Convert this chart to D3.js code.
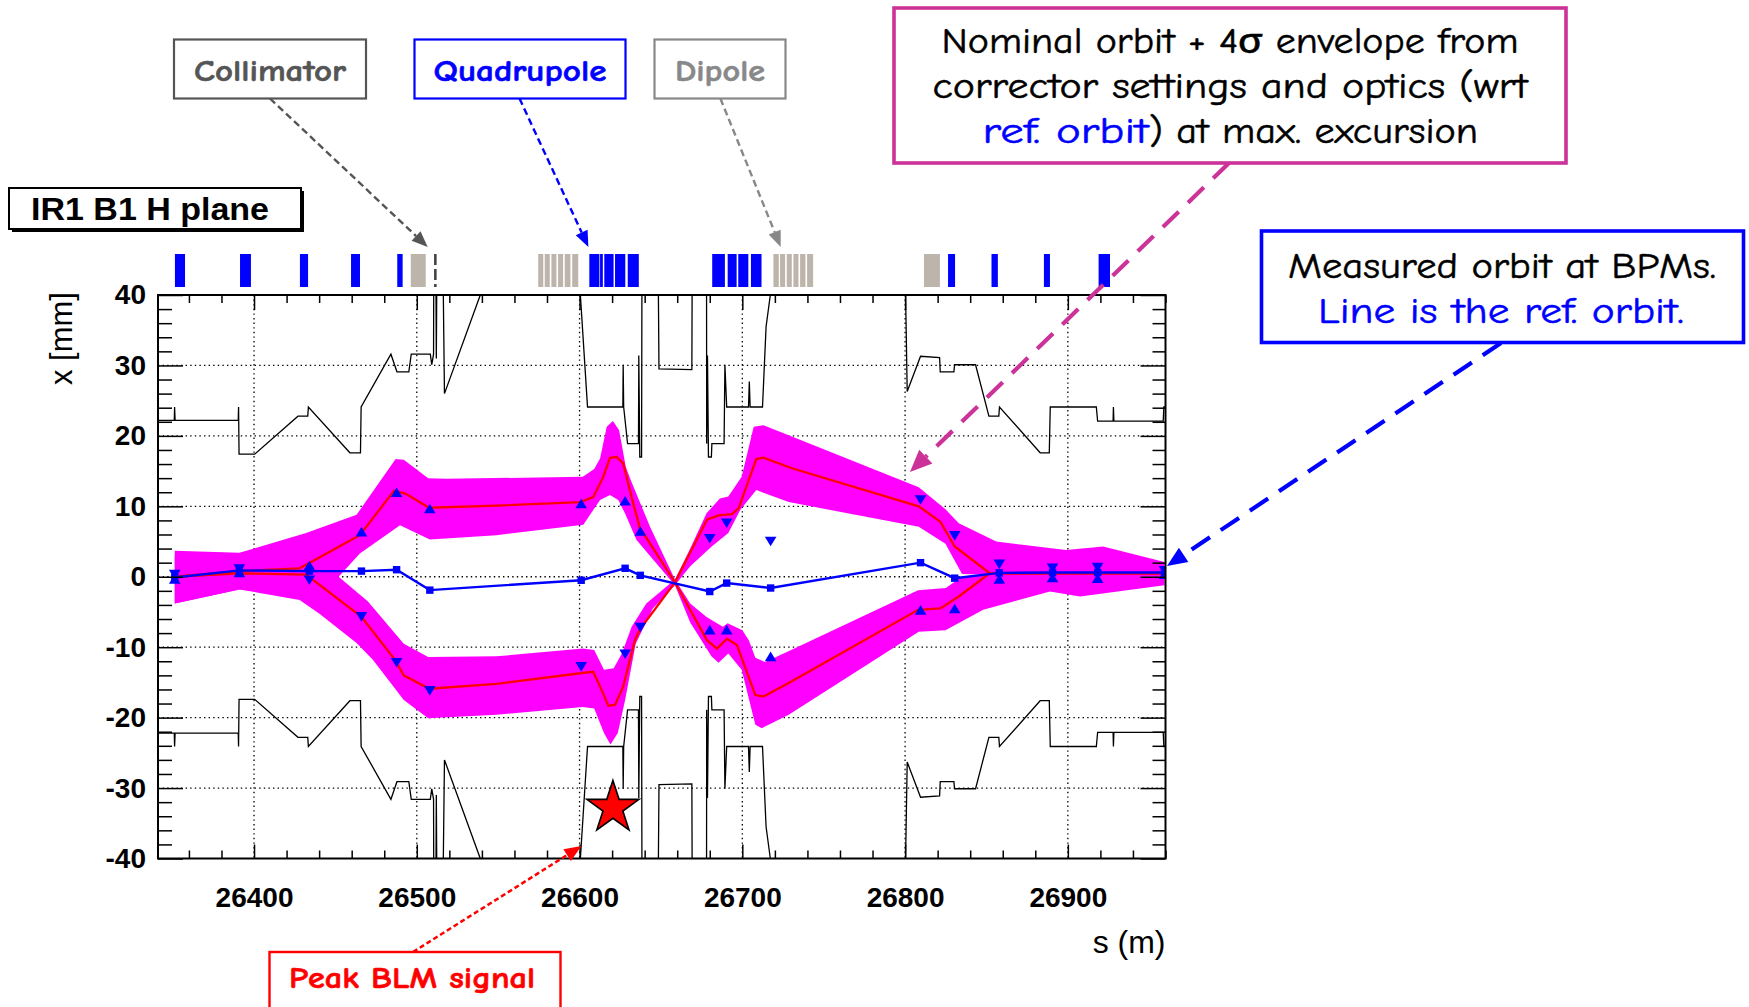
<!DOCTYPE html>
<html><head><meta charset="utf-8">
<script src="https://cdn.jsdelivr.net/npm/d3@7"></script>
<style>body{margin:0;background:#fff}svg{display:block}</style>
</head><body>
<svg id="c" width="1749" height="1007"></svg>
<script>
// ---------------- DATA ----------------
const xTicks = [26400, 26500, 26600, 26700, 26800, 26900];
const yTicks = [-40, -30, -20, -10, 0, 10, 20, 30, 40];
const xGrid = [26400, 26500, 26600, 26700, 26800, 26900];
const yGrid = [-30, -20, -10, 0, 10, 20, 30];

// upper aperture (s [m], x [mm])
const apertureUp = [[26341,22.2],[26351.0,22.2],[26351.2,24.1],[26351.5,22.2],[26390.3,22.2],[26390.5,24.1],[26390.8,17.4],[26400.4,17.4],[26427,22.8],[26433.0,22.8],[26433.4,24.1],[26458.9,17.6],[26465.4,17.6],[26465.8,24.1],[26484.1,31.6],[26487.8,29.1],[26495.1,29.1],[26496.6,31.6],[26508.3,31.6],[26509.2,30.1],[26510.3,31.6],[26510.5,50],[26511.6,50],[26512.0,31.0],[26512.5,50],[26515.8,50],[26517,26.0],[26539,40],[26547,52],[26598,52],[26600.5,40],[26604.9,24.1],[26626.6,24.1],[26626.8,30.1],[26627.1,24.1],[26629.5,18.9],[26636.2,18.9],[26636.4,31.4],[26637.0,17.0],[26638.1,17.0],[26638.4,50],[26648.1,50],[26648.8,29.5],[26669.0,29.4],[26669.3,50],[26678.0,50],[26678.1,18.9],[26678.6,31.4],[26679.2,17.0],[26681.0,17.0],[26681.3,18.9],[26688.8,18.9],[26689.3,30.1],[26690.4,24.1],[26703.8,24.1],[26704.3,27.7],[26704.8,24.1],[26712.4,24.1],[26714.6,35.5],[26717.2,40],[26720,50],[26799.6,50],[26801.3,26.3],[26809.5,31.3],[26821.2,31.1],[26821.6,29.1],[26830,29.1],[26830.4,30.1],[26843.3,30.1],[26851.5,22.8],[26857.6,22.8],[26858.0,24.1],[26883,17.6],[26888.6,17.6],[26889.2,24.1],[26917.5,24.1],[26918.3,22.1],[26927.8,22.1],[26928.0,24.1],[26928.3,22.1],[26958.6,22.1],[26959,24.1],[26960,24.1]];
// lower aperture
const apertureDown = [[26341,-22.2],[26351.0,-22.2],[26351.2,-24.1],[26351.5,-22.2],[26390.3,-22.2],[26390.5,-24.1],[26390.8,-17.4],[26400.4,-17.4],[26427,-22.8],[26433.0,-22.8],[26433.4,-24.1],[26458.9,-17.6],[26465.4,-17.6],[26465.8,-24.1],[26484.1,-31.6],[26487.8,-29.1],[26495.1,-29.1],[26496.6,-31.6],[26508.3,-31.6],[26509.2,-30.1],[26510.3,-31.6],[26510.5,-50],[26511.6,-50],[26512.0,-31.0],[26512.5,-50],[26515.8,-50],[26517,-26.0],[26539,-40],[26547,-52],[26598,-52],[26600.5,-40],[26604.9,-24.1],[26626.6,-24.1],[26626.8,-30.1],[26627.1,-24.1],[26629.5,-18.9],[26636.2,-18.9],[26636.4,-31.4],[26637.0,-17.0],[26638.1,-17.0],[26638.4,-50],[26648.1,-50],[26648.8,-29.5],[26669.0,-29.4],[26669.3,-50],[26678.0,-50],[26678.1,-18.9],[26678.6,-31.4],[26679.2,-17.0],[26681.0,-17.0],[26681.3,-18.9],[26688.8,-18.9],[26689.3,-30.1],[26690.4,-24.1],[26703.8,-24.1],[26704.3,-27.7],[26704.8,-24.1],[26712.4,-24.1],[26714.6,-35.5],[26717.2,-40],[26720,-50],[26799.6,-50],[26801.3,-26.3],[26809.5,-31.3],[26821.2,-31.1],[26821.6,-29.1],[26830,-29.1],[26830.4,-30.1],[26843.3,-30.1],[26851.5,-22.8],[26857.6,-22.8],[26858.0,-24.1],[26883,-17.6],[26888.6,-17.6],[26889.2,-24.1],[26917.5,-24.1],[26918.3,-22.1],[26927.8,-22.1],[26928.0,-24.1],[26928.3,-22.1],[26958.6,-22.1],[26959,-24.1],[26960,-24.1]];

// 4-sigma envelope, branch A (upper on the left, lower on the right)
const envAHi = [[26351.3,3.7],[26391,3.4],[26432,6.2],[26463,8.8],[26487,16.7],[26492,16.6],[26507,14.0],[26518,13.9],[26602,14.2],[26609,15.3],[26612.6,16.8],[26616.7,21.3],[26620.5,22.1],[26624.3,20.8],[26628.4,15.6],[26631.5,13.7],[26643.3,7.1],[26658.6,-0.4],[26668,-3.8],[26678,-5.7],[26688,-7.1],[26691,-6.6],[26700,-7.6],[26704,-9.0],[26708,-11.5],[26714,-12.1],[26730,-10.4],[26808,-1.9],[26825,-1.6],[26835,0.0],[26852,0.5],[26959.4,0.5]];
const envALo = [[26351.3,-3.8],[26391,-1.8],[26430,-1.0],[26452,0.0],[26465,3.3],[26489.7,7.3],[26508,5.3],[26549,5.9],[26602.3,7.4],[26612.6,10.9],[26618.7,11.6],[26623.8,10.9],[26627.9,9.0],[26635,5.2],[26658.6,-1.2],[26668,-6.5],[26681,-11.3],[26685.4,-12.2],[26691.4,-10.9],[26699.6,-13.2],[26708,-21.0],[26712,-21.5],[26728.5,-19.6],[26808.4,-7.8],[26824.8,-7.6],[26848,-4.7],[26889,-2.1],[26907.5,-2.8],[26959.4,-1.2]];
// branch B (lower on the left, upper on the right)
const envBHi = [[26351.3,3.0],[26391,2.5],[26430,1.0],[26452,0.0],[26470,-3.5],[26492,-9.5],[26507,-11.4],[26549,-11.3],[26602,-10.2],[26609,-10.4],[26615,-13.2],[26621,-13.0],[26626,-10.9],[26632,-7.1],[26641,-3.8],[26658.6,-0.4],[26668,4.0],[26678,9.0],[26686.2,11.1],[26691.4,11.4],[26699.6,14.2],[26707,21.3],[26713,21.5],[26728.5,20.1],[26808.4,12.7],[26824.8,9.6],[26833,7.6],[26856,5.0],[26899,3.8],[26921.7,4.3],[26959.4,2.1]];
const envBLo = [[26351.3,-3.8],[26391,-1.8],[26428,-3.3],[26440,-5.2],[26463,-9.4],[26473,-11.8],[26492,-17.5],[26507,-20.1],[26549,-19.6],[26602,-18.5],[26609,-18.7],[26615,-22.2],[26619,-23.8],[26623.5,-22.2],[26628,-17.5],[26634.5,-9.5],[26645,-4.5],[26658.6,-1.2],[26668,1.5],[26681.2,4.3],[26691.4,6.2],[26698.8,9.5],[26708.6,12.3],[26728.5,10.6],[26808.4,7.1],[26824.8,4.7],[26835,0.4],[26852,0.3],[26959.4,0.3]];

// nominal orbit at max excursion (red)
const nominalA = [[26351.3,0.0],[26391,0.8],[26428,1.2],[26465,5.9],[26486,12.2],[26493,11.8],[26507.6,9.8],[26549,10.1],[26600.5,10.6],[26608.4,11.3],[26614.6,14.2],[26618.7,16.9],[26622.8,17.0],[26626.8,16.1],[26633,10.4],[26637,7.0],[26658.6,-0.8],[26678.3,-9.0],[26684.4,-10.2],[26690.6,-8.8],[26696.7,-9.7],[26708,-16.8],[26713,-17.0],[26728.5,-15.1],[26808,-4.7],[26821.7,-4.5],[26833,-2.8],[26852,0.5],[26959.4,0.5]];
const nominalB = [[26351.3,0.0],[26391,0.5],[26432,0.3],[26466,-5.7],[26486.6,-11.8],[26492,-14.0],[26507.6,-15.9],[26549,-15.2],[26600.5,-13.7],[26608.4,-13.5],[26613.6,-16.1],[26617.7,-18.3],[26621.8,-18.2],[26626.8,-15.6],[26634,-9.0],[26637,-7.5],[26658.6,-0.8],[26678.3,8.1],[26685.4,8.7],[26693.6,8.9],[26697.7,9.7],[26708.6,16.7],[26713,16.9],[26730.5,15.4],[26808.4,10.0],[26821.7,7.8],[26830.5,4.3],[26852,0.5],[26959.4,0.5]];

// BPMs
const bpmS      = [26351.3, 26391, 26434, 26466, 26487.6, 26508, 26601, 26628, 26637.3, 26680, 26690.4, 26717.4, 26809.5, 26830.5, 26857.9, 26890.6, 26918.3, 26959.4];
const refOrbit  = [-0.1, 0.9, 0.8, 0.8, 1.0, -1.9, -0.5, 1.2, 0.2, -2.1, -0.9, -1.6, 2.0, -0.2, 0.55, 0.6, 0.6, 0.6];
const measUp    = [-0.3, 0.6, 1.6, 6.4, 12.0, 9.7, 10.4, 10.8, 6.5, -7.5, -7.5, -11.3, -4.7, -4.5, -0.3, -0.1, -0.2, 0.35];
const measDown  = [0.3, 1.1, -0.5, -5.7, -12.2, -16.2, -12.8, -11.0, -7.2, 5.4, 7.6, 5.0, 10.9, 5.8, 1.75, 1.2, 1.3, 0.85];

// machine elements (s start, s end)
const quadrupoles = [[26351.4,26357.6],[26391.4,26398.1],[26428.2,26433.2],[26459.6,26465.1],[26488.0,26491.3],[26606.0,26612.2],[26612.6,26614.3],[26615.2,26620.9],[26621.8,26628.1],[26629.6,26636.4],[26681.5,26689.3],[26691.0,26696.5],[26697.5,26703.7],[26705.3,26711.8],[26826.4,26830.7],[26853.1,26857.0],[26885.3,26889.0],[26918.9,26925.9]];
const dipoles = [[26574.6,26577.7],[26578.6,26581.7],[26582.7,26585.8],[26586.8,26589.9],[26590.9,26594.4],[26595.5,26599.2],[26719.1,26722.4],[26723.2,26726.3],[26727.3,26730.4],[26731.4,26734.5],[26735.5,26738.8],[26739.8,26743.5]];
const collimators = [[26496.3,26505.5],[26811.6,26821.4]];
const collimatorMarker = [26511.4];
const peakBLM = [[26620.5, -32.8]];

// ---------------- CHART ----------------
const svg = d3.select("#c");
const M = {l:158, r:1165.5, t:295, b:858.5};
const x = d3.scaleLinear().domain([26341, 26960]).range([M.l, M.r]);
const y = d3.scaleLinear().domain([-40, 40]).range([M.b, M.t]);
const AX = "'Liberation Sans', Arial, Helvetica, sans-serif";
const COMIC = "'Comic Sans MS','Comic Neue', Lato, 'Open Sans', sans-serif";

svg.append("rect").attr("width",1749).attr("height",1007).attr("fill","#fff");
svg.append("defs").append("clipPath").attr("id","plot")
  .append("rect").attr("x",M.l).attr("y",M.t).attr("width",M.r-M.l).attr("height",M.b-M.t);

// grid
const gGrid = svg.append("g").attr("stroke","#000").attr("stroke-width",1.3).attr("stroke-dasharray","1.4,3.2");
gGrid.selectAll(".gx").data(xGrid).join("line").attr("x1",d=>x(d)).attr("x2",d=>x(d)).attr("y1",M.t).attr("y2",M.b);
gGrid.selectAll(".gy").data(yGrid).join("line").attr("y1",d=>y(d)).attr("y2",d=>y(d)).attr("x1",M.l).attr("x2",M.r);

const line = d3.line().x(d=>x(d[0])).y(d=>y(d[1]));
const gData = svg.append("g").attr("clip-path","url(#plot)");

// aperture
[apertureUp, apertureDown].forEach(a => gData.append("path").attr("d", line(a))
  .attr("fill","none").attr("stroke","#000").attr("stroke-width",1.3));

// envelopes
[[envAHi, envALo],[envBHi, envBLo]].forEach(([hi, lo]) => {
  gData.append("path").attr("d", line(hi.concat(lo.slice().reverse())) + "Z")
    .attr("fill","#ff00ff").attr("stroke","none");
});
// nominal orbits
[nominalA, nominalB].forEach(a => gData.append("path").attr("d", line(a))
  .attr("fill","none").attr("stroke","#ff0000").attr("stroke-width",2.3));

// reference orbit
const ref = bpmS.map((s,i)=>[s, refOrbit[i]]);
gData.append("path").attr("d", line(ref)).attr("fill","none").attr("stroke","#0000ff").attr("stroke-width",2.4);
gData.selectAll(".sq").data(ref).join("rect")
  .attr("x",d=>x(d[0])-3.7).attr("y",d=>y(d[1])-3.7).attr("width",7.4).attr("height",7.4).attr("fill","#0000ff");

// measured orbit triangles
const triUp = "M0,-4.8L5.8,4.8L-5.8,4.8Z", triDown = "M0,4.8L5.8,-4.8L-5.8,-4.8Z";
gData.selectAll(".tu").data(bpmS.map((s,i)=>[s, measUp[i]])).join("path")
  .attr("d", triUp).attr("transform", d=>`translate(${x(d[0])},${y(d[1])})`).attr("fill","#0000ff");
gData.selectAll(".td").data(bpmS.map((s,i)=>[s, measDown[i]])).join("path")
  .attr("d", triDown).attr("transform", d=>`translate(${x(d[0])},${y(d[1])})`).attr("fill","#0000ff");

// peak BLM star
svg.selectAll(".star").data(peakBLM).join("path")
  .attr("d", d3.symbol(d3.symbolStar).size(840))
  .attr("transform", d=>`translate(${x(d[0])},${y(d[1])})`)
  .attr("fill","#ff0000").attr("stroke","#000").attr("stroke-width",1.6);

// axes (ticks inside, ROOT style)
function styleAxis(g){ g.select(".domain").remove(); g.selectAll("line").attr("stroke","#000").attr("stroke-width",1.5);
  g.attr("font-family",AX).attr("font-size",28).attr("font-weight","bold"); g.selectAll("text").attr("fill","#000"); }
const xMinor = d3.range(26360, 26961, 20).filter(v=>v%100!==0);
const yMinor = d3.range(-38, 39, 2).filter(v=>v%10!==0);
const plain = d => String(d);

svg.append("g").attr("transform",`translate(0,${M.b})`)
  .call(d3.axisBottom(x).tickValues(xTicks).tickSize(-14).tickPadding(29).tickFormat(plain)).call(styleAxis);
svg.append("g").attr("transform",`translate(0,${M.b})`)
  .call(d3.axisBottom(x).tickValues(xMinor).tickSize(-8).tickFormat("")).call(styleAxis);
svg.append("g").attr("transform",`translate(0,${M.t})`)
  .call(d3.axisTop(x).tickValues(xTicks).tickSize(-15).tickFormat("")).call(styleAxis);
svg.append("g").attr("transform",`translate(0,${M.t})`)
  .call(d3.axisTop(x).tickValues(xMinor).tickSize(-8).tickFormat("")).call(styleAxis);
svg.append("g").attr("transform",`translate(${M.l},0)`)
  .call(d3.axisLeft(y).tickValues(yTicks).tickSize(-25).tickPadding(12).tickFormat(plain)).call(styleAxis);
svg.append("g").attr("transform",`translate(${M.l},0)`)
  .call(d3.axisLeft(y).tickValues(yMinor).tickSize(-14).tickFormat("")).call(styleAxis);
svg.append("g").attr("transform",`translate(${M.r},0)`)
  .call(d3.axisRight(y).tickValues(yTicks).tickSize(-25).tickFormat("")).call(styleAxis);
svg.append("g").attr("transform",`translate(${M.r},0)`)
  .call(d3.axisRight(y).tickValues(yMinor).tickSize(-13).tickFormat("")).call(styleAxis);

svg.append("rect").attr("x",M.l).attr("y",M.t).attr("width",M.r-M.l).attr("height",M.b-M.t)
  .attr("fill","none").attr("stroke","#000").attr("stroke-width",2);

// axis titles
svg.append("text").attr("x",M.r).attr("y",953).attr("text-anchor","end")
  .attr("font-family",AX).attr("font-size",32).text("s (m)");
svg.append("text").attr("transform","translate(72,292) rotate(-90)").attr("text-anchor","end")
  .attr("font-family",AX).attr("font-size",31).text("x [mm]");

// machine element bar
const eY0 = 254, eY1 = 287;
svg.selectAll(".quad").data(quadrupoles).join("rect")
  .attr("x",d=>x(d[0])).attr("width",d=>x(d[1])-x(d[0])).attr("y",eY0).attr("height",eY1-eY0).attr("fill","#0000ff");
svg.selectAll(".dip").data(dipoles).join("rect")
  .attr("x",d=>x(d[0])).attr("width",d=>x(d[1])-x(d[0])).attr("y",eY0).attr("height",eY1-eY0).attr("fill","#bdb5ac");
svg.selectAll(".col").data(collimators).join("rect")
  .attr("x",d=>x(d[0])).attr("width",d=>x(d[1])-x(d[0])).attr("y",eY0).attr("height",eY1-eY0).attr("fill","#bdb5ac");
svg.selectAll(".colm").data(collimatorMarker).join("line")
  .attr("x1",d=>x(d)).attr("x2",d=>x(d)).attr("y1",eY0).attr("y2",eY1)
  .attr("stroke","#444").attr("stroke-width",2.6).attr("stroke-dasharray","11,4");

// plane title box
svg.append("rect").attr("x",12).attr("y",191).attr("width",292).attr("height",41).attr("fill","#000");
svg.append("rect").attr("x",9).attr("y",188).attr("width",292).attr("height",41).attr("fill","#fff").attr("stroke","#000").attr("stroke-width",2);
svg.append("text").attr("x",31).attr("y",220).attr("font-family",AX).attr("font-weight","bold")
  .attr("font-size",31).attr("textLength",238).attr("lengthAdjust","spacingAndGlyphs").text("IR1 B1 H plane");

// annotation helpers
function arrow(x0,y0,x1,y1,color,w,dash,hl,hw){
  const a = Math.atan2(y1-y0,x1-x0), bx = x1-hl*Math.cos(a), by = y1-hl*Math.sin(a);
  svg.append("line").attr("x1",x0).attr("y1",y0).attr("x2",bx).attr("y2",by)
    .attr("stroke",color).attr("stroke-width",w).attr("stroke-dasharray",dash);
  const px = -Math.sin(a)*hw/2, py = Math.cos(a)*hw/2;
  svg.append("path").attr("d",`M${x1},${y1}L${bx+px},${by+py}L${bx-px},${by-py}Z`).attr("fill",color);
}
function box(x0,y0,x1,y1,color,w){
  svg.append("rect").attr("x",x0).attr("y",y0).attr("width",x1-x0).attr("height",y1-y0)
    .attr("fill","#fff").attr("stroke",color).attr("stroke-width",w);
}
function label(txt,xc,yb,color,size,len,weight,anchor){
  svg.append("text").attr("x",xc).attr("y",yb).attr("text-anchor",anchor||"middle")
    .attr("font-family",COMIC).attr("font-size",size).attr("font-weight",weight||"500")
    .attr("fill",color).attr("stroke",color).attr("stroke-width",weight==="bold"?0.6:0.5)
    .attr("textLength",len).attr("lengthAdjust","spacingAndGlyphs").text(txt);
}

// element labels
arrow(270,98.5,427.7,247,"#555",2.4,"7,4",16,13);
arrow(519.5,98.5,588.4,247,"#0000ff",2.4,"7,4",16,13);
arrow(720.4,98.5,780.7,247,"#888",2.4,"7,4",16,13);
box(174,39.5,366,98.5,"#555",2.2); label("Collimator",270,81,"#555",31,152,"bold");
box(414.5,39.5,625.5,98.5,"#0000ff",2.2); label("Quadrupole",520,81,"#0000ff",31,173,"bold");
box(654.5,39.5,785.5,98.5,"#888",2.2); label("Dipole",720,81,"#888",31,90,"bold");

// nominal envelope note
arrow(1229,163,910,472,"#cc3399",4.2,"22,13",22,19);
box(894,8,1566,163,"#cc3399",3.6);
label("Nominal orbit + 4\u03c3 envelope from",1230,53,"#000",36,577);
label("corrector settings and optics (wrt",1230,98,"#000",36,595);
label("ref. orbit",982.5,143,"#0000ff",36,166,"500","start");
label(") at max. excursion",1149,143,"#000",36,329,"500","start");

// measured orbit note
arrow(1501,343,1167,566,"#0000ff",4.2,"22,13",20,17);
box(1261.5,231,1743.5,342.5,"#0000ff",3.6);
label("Measured orbit at BPMs.",1502,278,"#000",36,428);
label("Line is the ref. orbit.",1501,323,"#0000ff",36,366);

// peak BLM note
arrow(413,952,581.5,846,"#ff0000",2.5,"5,3",17,14);
box(269.5,952,560.5,1012,"#ff0000",2.4);
label("Peak BLM signal",412,988,"#ff0000",30,246,"bold");
</script>
</body></html>
